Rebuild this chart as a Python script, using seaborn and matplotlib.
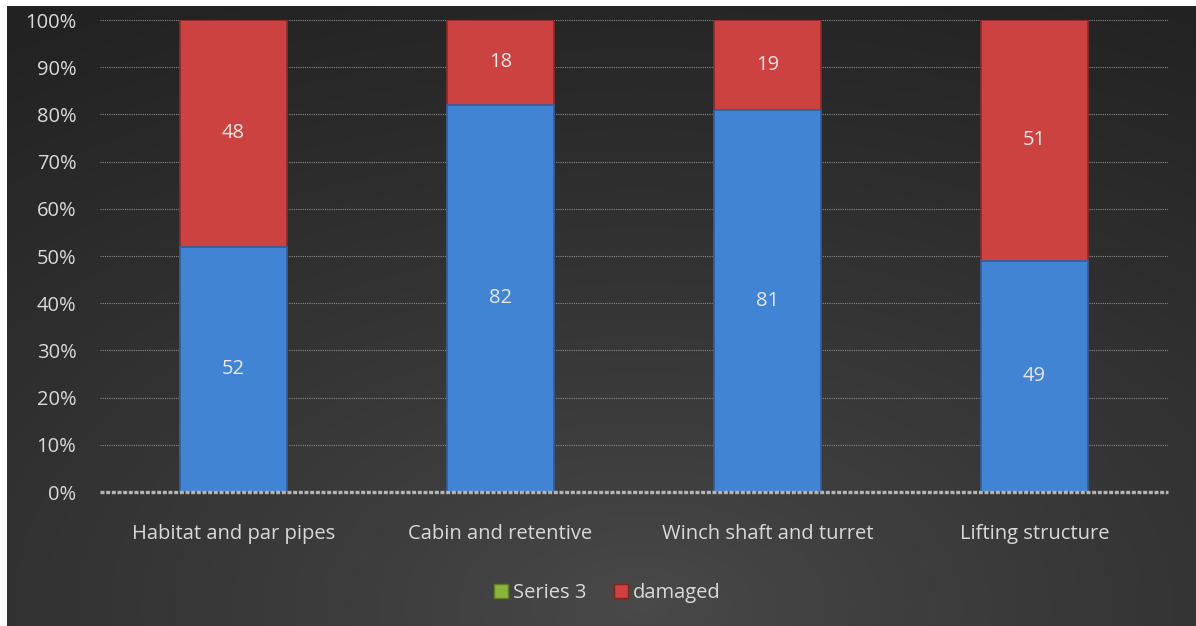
import numpy as np
import pandas as pd
import matplotlib
matplotlib.use("Agg")
import matplotlib.pyplot as plt
import seaborn as sns
from matplotlib.lines import Line2D

categories = ["Habitat and par pipes", "Cabin and retentive", "Winch shaft and turret", "Lifting structure"]
intact = [52, 82, 81, 49]
damaged = [48, 18, 19, 51]
series3 = [0, 0, 0, 0]
y_ticks = [0, 10, 20, 30, 40, 50, 60, 70, 80, 90, 100]
legend_labels = ["Series 3", "damaged"]

BLUE = "#4284d4"
RED = "#cc4240"
GREEN = "#8ab43c"
TXT = "#d9d9d9"
FS = 14.5

sns.set_theme(style="white")
plt.rcParams["font.family"] = ["Open Sans", "DejaVu Sans"]

W, H = 1196, 626
fig = plt.figure(figsize=(W / 100, H / 100), dpi=100)
fig.patch.set_facecolor("white")

# background gradient
bg = fig.add_axes([7 / W, 0, 1 - 7 / W, 1 - 6 / H], zorder=0)
yy, xx = np.mgrid[0:300, 0:600]
cx, cy = 320, 290
d = np.sqrt(((xx - cx) / 600) ** 2 + ((yy - cy) / 330) ** 2)
d = np.clip(d / 1.0, 0, 1)
c0, c1 = 0x4a / 255, 0x22 / 255
val = c0 + (c1 - c0) * d ** 0.8
bg.imshow(np.dstack([val, val, val]), aspect="auto", extent=[0, 1, 0, 1], origin="upper")
bg.set_axis_off()

ax = fig.add_axes([100 / W, 1 - 492 / H, 1068 / W, 472 / H], zorder=1)
ax.patch.set_alpha(0)

df = pd.DataFrame({"category": categories, "intact": intact, "damaged": damaged})
df["total"] = df["intact"] + df["damaged"]

sns.barplot(data=df, x="category", y="total", color=RED, saturation=1, width=0.4,
            edgecolor="#8e2a29", linewidth=1.2, ax=ax, zorder=3)
sns.barplot(data=df, x="category", y="intact", color=BLUE, saturation=1, width=0.4,
            edgecolor="#2c5f9e", linewidth=1.2, ax=ax, zorder=4)

for i, (b, r) in enumerate(zip(intact, damaged)):
    ax.text(i, b / 2, f"{b}", ha="center", va="center", color="#e6e6e6", fontsize=FS, zorder=6)
    ax.text(i, b + r / 2, f"{r}", ha="center", va="center", color="#e6e6e6", fontsize=FS, zorder=6)

ax.set_ylim(0, 100)
ax.set_xlim(-0.5, 3.5)
ax.set_yticks(y_ticks)
ax.set_yticklabels([f"{t}%" for t in y_ticks], color=TXT, fontsize=FS)
ax.tick_params(axis="y", length=0, pad=17)
ax.tick_params(axis="x", length=0, pad=23, labelcolor=TXT, labelsize=FS)
ax.set_xlabel("")
ax.set_ylabel("")
for t in y_ticks[1:]:
    ax.axhline(t, color="#8a8a8a", lw=0.8, ls=(0, (1, 1)), zorder=1)
ax.axhline(0, color="#b4b4b4", lw=2.4, ls=(0, (1.2, 0.5)), zorder=5, clip_on=False)
for s in ax.spines.values():
    s.set_visible(False)

handles = [Line2D([], [], marker="s", ls="", color=GREEN, markersize=10, markeredgecolor="#5f7f25"),
           Line2D([], [], marker="s", ls="", color=RED, markersize=10, markeredgecolor="#7f2322")]
leg = fig.legend(handles, legend_labels, loc="center", bbox_to_anchor=(606 / W, 1 - 593 / H), ncol=2,
                 frameon=False, fontsize=FS, handletextpad=0.1, columnspacing=1.2, handlelength=1.0)
for t in leg.get_texts():
    t.set_color(TXT)

fig.savefig("out.png", dpi=100, facecolor=fig.get_facecolor())
